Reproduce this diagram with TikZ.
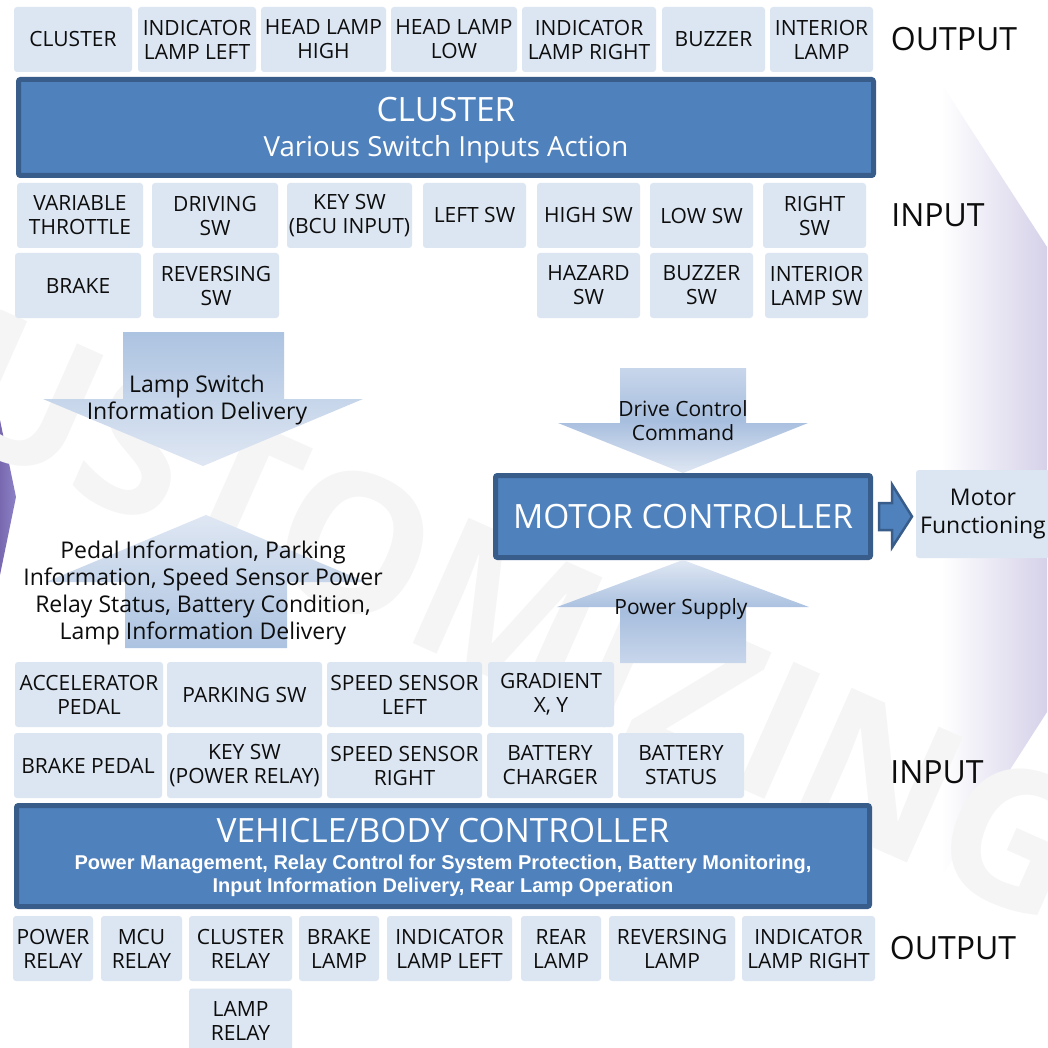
\documentclass[tikz,border=0pt]{standalone}
\usepackage{fontspec}
\setmainfont{Open Sans}
\newfontfamily\notefam{Liberation Sans}
\usetikzlibrary{calc}

\definecolor{boxfill}{RGB}{220,230,242}
\definecolor{barfill}{RGB}{79,129,189}
\definecolor{barline}{RGB}{56,93,138}
\definecolor{arrdark}{RGB}{172,195,225}
\definecolor{arrlight}{RGB}{223,231,243}
\definecolor{arrmid}{RGB}{167,190,222}
\definecolor{arrpale}{RGB}{200,214,235}
\definecolor{chevlav}{RGB}{214,209,233}
\definecolor{purpA}{RGB}{120,104,176}
\definecolor{purpB}{RGB}{142,130,198}
\definecolor{ink}{RGB}{13,13,13}

\newcommand\sigfont{\fontsize{21}{24}\selectfont}
\newcommand\sidefont{\fontsize{32}{38}\selectfont}
\newcommand\titlefont{\fontsize{33.5}{38}\selectfont}
\newcommand\actfont{\fontsize{27.7}{32}\selectfont}
\newcommand\flowfont{\fontsize{23}{27.5}\selectfont}
\newcommand\cmdfont{\fontsize{21}{24}\selectfont}
\newcommand\notefont{\notefam\bfseries\fontsize{20}{23}\selectfont}

\tikzset{
  sig/.style={fill=boxfill, rounded corners=3pt, inner sep=1pt,
    minimum height=65pt, align=center, font=\sigfont, text=ink},
  ctrlbar/.style={fill=barfill, draw=barline, line width=5pt, rounded corners=2pt},
  goarrow/.style={fill=barfill, draw=barline, line width=2.5pt},
  bartitle/.style={font=\titlefont, text=white, inner sep=0pt, anchor=base},
  side/.style={font=\sidefont, text=ink, inner sep=0pt},
  flow/.style={font=\flowfont, align=center, inner sep=0pt, text=ink},
  cmd/.style={font=\cmdfont, align=center, inner sep=0pt, text=ink},
  note/.style={font=\notefont, align=center, inner sep=0pt, text=white},
  wmark/.style={font={\fontsize{192}{192}\selectfont\bfseries}, text=black!4,
    rotate=-24, inner sep=0pt}
}

\begin{document}
\begin{tikzpicture}[x=1pt,y=1pt]
  \path[use as bounding box, fill=white] (0,0) rectangle (1047,-1048);

  % background shapes
  \shade[left color=white, right color=chevlav] (941,-83) -- (1047,-247) -- (1047,-712) -- (941,-877) -- cycle;
  \shade[left color=purpA, right color=purpB] (0,-420) -- (16,-497) -- (0,-575) -- cycle;
  \node[wmark] (wm) at (462,-590) {CUSTOMIZING};

  % cluster outputs
  \node[sig, minimum width=118pt] (oclu)  at (73,-39.5) {CLUSTER};
  \node[sig, minimum width=118pt] (oindl) at (197,-39.5) {INDICATOR\\LAMP LEFT};
  \node[sig, minimum width=125pt] (ohigh) at (323.5,-39.5) {HEAD LAMP\\HIGH};
  \node[sig, minimum width=126pt] (olow)  at (454,-39.5) {HEAD LAMP\\LOW};
  \node[sig, minimum width=134pt] (oindr) at (589,-39.5) {INDICATOR\\LAMP RIGHT};
  \node[sig, minimum width=103pt] (obuz)  at (713.5,-39.5) {BUZZER};
  \node[sig, minimum width=103pt] (oint)  at (821.5,-39.5) {INTERIOR\\LAMP};
  \node[side] (outtop) at (954,-39) {OUTPUT};

  % cluster
  \node[ctrlbar, minimum width=855pt, minimum height=96pt] (clu) at (446,-127.5) {};
  \node[bartitle] (clut) at (446,-122) {CLUSTER};
  \node[bartitle, font=\actfont] (clus) at (446,-157) {Various Switch Inputs Action};

  % cluster inputs
  \node[sig, minimum width=126pt] (ithr)   at (80,-215.5) {VARIABLE\\THROTTLE};
  \node[sig, minimum width=126pt] (idrv)   at (215,-215.5) {DRIVING\\SW};
  \node[sig, minimum width=125pt] (ikey)   at (349.5,-215.5) {KEY SW\\(BCU INPUT)};
  \node[sig, minimum width=103pt] (ileft)  at (474.5,-215.5) {LEFT SW};
  \node[sig, minimum width=103pt] (ihigh)  at (588.5,-215.5) {HIGH SW};
  \node[sig, minimum width=103pt] (ilow)   at (701.5,-215.5) {LOW SW};
  \node[sig, minimum width=103pt] (iright) at (814.5,-215.5) {RIGHT\\SW};
  \node[sig, minimum width=126pt] (ibrk)   at (78,-285.5) {BRAKE};
  \node[sig, minimum width=126pt] (irev)   at (216,-285.5) {REVERSING\\SW};
  \node[sig, minimum width=103pt] (ihaz)   at (588.5,-285.5) {HAZARD\\SW};
  \node[sig, minimum width=103pt] (ibuz)   at (701.5,-285.5) {BUZZER\\SW};
  \node[sig, minimum width=103pt] (iints)  at (816.5,-285.5) {INTERIOR\\LAMP SW};
  \node[side] (intop) at (938,-215) {INPUT};

  % information flow between the controllers
  \shade[top color=arrdark, bottom color=arrlight] (123,-332) -- (284,-332) -- (284,-399) -- (363,-399)
    -- (203,-466) -- (43,-399) -- (123,-399) -- cycle;
  \node[flow] (lamptxt) at (197,-400) {Lamp Switch\\Information Delivery};
  \shade[top color=arrlight, bottom color=arrdark] (125,-648) -- (287,-648) -- (287,-582) -- (366,-582)
    -- (206,-515) -- (46,-582) -- (125,-582) -- cycle;
  \node[flow, font={\fontsize{23}{27}\selectfont}] (pedaltxt) at (203,-592.5)
    {Pedal Information, Parking\\Information, Speed Sensor Power\\Relay Status, Battery Condition,\\Lamp Information Delivery};

  % motor controller
  \node[ctrlbar, minimum width=375pt, minimum height=82pt, font=\titlefont, text=white] (mc)
    at (683,-516.5) {MOTOR CONTROLLER};
  \node[sig, minimum width=134pt, minimum height=88pt, font=\flowfont] (mf) at (983,-514) {Motor\\Functioning};
  \shade[top color=arrpale, bottom color=arrlight, middle color=arrmid, shift={(mc.north)}]
    (-63,105) -- (63,105) -- (63,50) -- (125,50) -- (0,0) -- (-125,50) -- (-63,50) -- cycle;
  \node[cmd] (drvtxt) at (683,-421) {Drive Control\\Command};
  \shade[top color=arrlight, bottom color=arrpale, middle color=arrmid, shift={(mc.south)}]
    (-63,-103) -- (63,-103) -- (63,-47) -- (126,-47) -- (0,0) -- (-126,-47) -- (-63,-47) -- cycle;
  \node[cmd] (pwrtxt) at (681,-609) {Power Supply};
  \draw[goarrow, shift={(mc.east)}] (6,13.5) -- (19,13.5) -- (19,32) -- (39,0) -- (19,-31)
    -- (19,-13.5) -- (6,-13.5) -- cycle;

  % vehicle/body inputs
  \node[sig, minimum width=148pt] (aacc)  at (89,-694.5) {ACCELERATOR\\PEDAL};
  \node[sig, minimum width=155pt] (apark) at (244.5,-694.5) {PARKING SW};
  \node[sig, minimum width=155pt] (aspl)  at (404.5,-694.5) {SPEED SENSOR\\LEFT};
  \node[sig, minimum width=126pt] (agrad) at (551,-694.5) {GRADIENT\\X, Y};
  \node[sig, minimum width=148pt] (abrkp) at (88,-765.5) {BRAKE PEDAL};
  \node[sig, minimum width=155pt] (akey)  at (244.5,-765.5) {KEY SW\\(POWER RELAY)};
  \node[sig, minimum width=155pt] (aspr)  at (404.5,-765.5) {SPEED SENSOR\\RIGHT};
  \node[sig, minimum width=126pt] (achg)  at (550,-765.5) {BATTERY\\CHARGER};
  \node[sig, minimum width=126pt] (abat)  at (681,-765.5) {BATTERY\\STATUS};
  \node[side] (inbot) at (937,-772) {INPUT};

  % vehicle/body controller
  \node[ctrlbar, minimum width=853pt, minimum height=101pt] (vbc) at (443,-856) {};
  \node[bartitle] (vbct) at (443,-842) {VEHICLE/BODY CONTROLLER};
  \node[note] (vbcs) at (443,-875.5)
    {Power Management, Relay Control for System Protection, Battery Monitoring,\\Input Information Delivery, Rear Lamp Operation};

  % vehicle/body outputs
  \node[sig, minimum width=80pt]  (bpow)  at (53,-948.5) {POWER\\RELAY};
  \node[sig, minimum width=81pt]  (bmcu)  at (141.5,-948.5) {MCU\\RELAY};
  \node[sig, minimum width=103pt] (bclu)  at (240.5,-948.5) {CLUSTER\\RELAY};
  \node[sig, minimum width=80pt]  (bbrk)  at (339,-948.5) {BRAKE\\LAMP};
  \node[sig, minimum width=125pt] (bindl) at (449.5,-948.5) {INDICATOR\\LAMP LEFT};
  \node[sig, minimum width=80pt]  (brear) at (561,-948.5) {REAR\\LAMP};
  \node[sig, minimum width=126pt] (brev)  at (672,-948.5) {REVERSING\\LAMP};
  \node[sig, minimum width=133pt] (bindr) at (808.5,-948.5) {INDICATOR\\LAMP RIGHT};
  \node[sig, minimum width=103pt] (blamp) at (240.5,-1021) {LAMP\\RELAY};
  \node[side] (outbot) at (953,-948) {OUTPUT};
\end{tikzpicture}
\end{document}
